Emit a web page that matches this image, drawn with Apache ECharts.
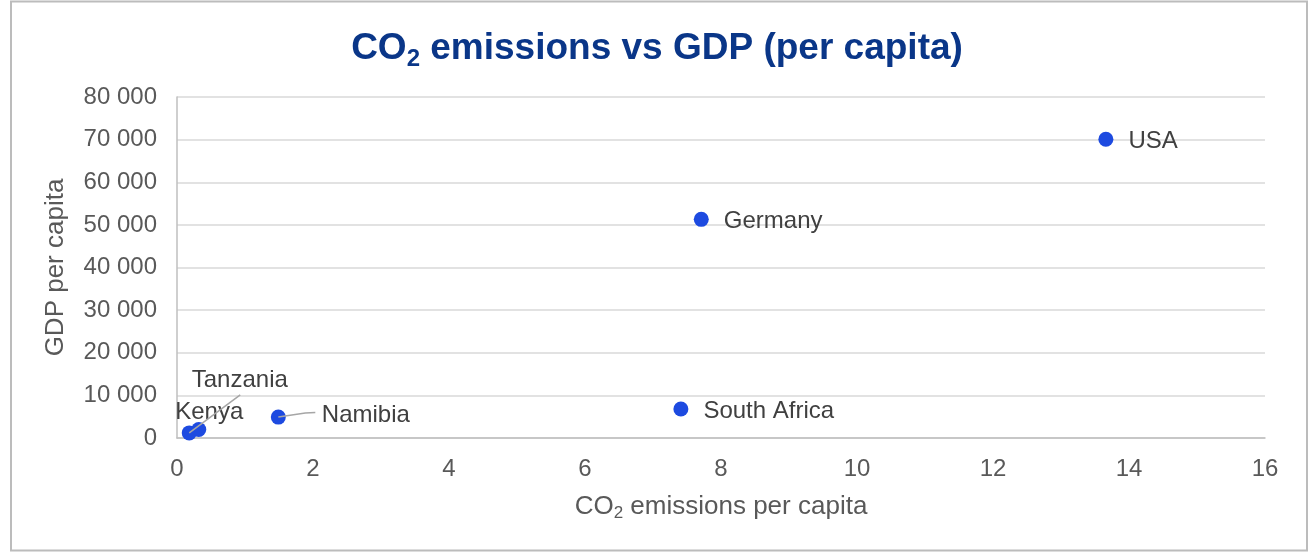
<!DOCTYPE html>
<html>
<head>
<meta charset="utf-8">
<script src="https://cdn.jsdelivr.net/npm/echarts@6/dist/echarts.min.js"></script>
<style>
html,body{margin:0;padding:0;background:#fff;}
#chart{width:1314px;height:556px;}
</style>
</head>
<body>
<div id="chart"></div>
<script>
// ---- data ----
const countries = ['Tanzania', 'Kenya', 'Namibia', 'South Africa', 'Germany', 'USA'];
const co2PerCapita = [0.18, 0.32, 1.49, 7.41, 7.71, 13.66];
const gdpPerCapita = [1200, 2000, 4900, 6800, 51300, 70100];
const xTicks = [0, 2, 4, 6, 8, 10, 12, 14, 16];
const yTicks = [0, 10000, 20000, 30000, 40000, 50000, 60000, 70000, 80000];

// ---- label placement (style only, pixel offsets relative to default label / point) ----
const labelOffsets = {
  'Tanzania': { dx: -20, dy: -53 },
  'Kenya': { dx: -46, dy: -17 },
  'Namibia': { dx: 21, dy: -2 }
};
const defaultLabelShift = { dx: 0, dy: 2 };
// leader line bends, pixel offsets from the point centre
const leaderLines = {
  'Tanzania': [[0, 0], [51, -38]],
  'Namibia': [[0, 0], [27, -4], [37, -4.5]]
};

const FONT = '"Liberation Sans", Arial, sans-serif';

function fmtThousands(v) {
  return String(v).replace(/\B(?=(\d{3})+(?!\d))/g, ' ');
}

const seriesData = countries.map((c, i) => ({ name: c, value: [co2PerCapita[i], gdpPerCapita[i]] }));

const chart = echarts.init(document.getElementById('chart'), null, { renderer: 'canvas' });
chart.setOption({
  backgroundColor: '#ffffff',
  animation: false,
  title: {
    text: '{a|CO}{s|2}{a| emissions vs GDP (per capita)}',
    left: 'center',
    top: 22,
    textStyle: {
      rich: {
        a: { fontFamily: FONT, fontWeight: 'bold', fontSize: 37, color: '#0a3688', lineHeight: 44, verticalAlign: 'middle' },
        s: { fontFamily: FONT, fontWeight: 'bold', fontSize: 24, color: '#0a3688', lineHeight: 44, verticalAlign: 'bottom' }
      }
    }
  },
  grid: { left: 177, right: 49, top: 97, bottom: 118, containLabel: false },
  xAxis: {
    type: 'value',
    min: xTicks[0],
    max: xTicks[xTicks.length - 1],
    interval: xTicks[1] - xTicks[0],
    name: '{a|CO}{s|2}{a| emissions per capita}',
    nameLocation: 'middle',
    nameGap: 54,
    nameTextStyle: {
      rich: {
        a: { fontFamily: FONT, fontSize: 26, color: '#595959', lineHeight: 30, verticalAlign: 'middle' },
        s: { fontFamily: FONT, fontSize: 17, color: '#595959', lineHeight: 30, verticalAlign: 'bottom' }
      }
    },
    axisLine: { show: true, lineStyle: { color: '#bfbfbf', width: 1.5 } },
    axisTick: { show: false },
    splitLine: { show: false },
    axisLabel: { fontFamily: FONT, fontSize: 24, color: '#595959', margin: 19 }
  },
  yAxis: {
    type: 'value',
    min: yTicks[0],
    max: yTicks[yTicks.length - 1],
    interval: yTicks[1] - yTicks[0],
    name: 'GDP per capita',
    nameLocation: 'middle',
    nameRotate: 90,
    nameGap: 108,
    nameTextStyle: { fontFamily: FONT, fontSize: 26, color: '#595959' },
    axisLine: { show: true, lineStyle: { color: '#bfbfbf', width: 1.5 } },
    axisTick: { show: false },
    splitLine: { show: true, lineStyle: { color: '#d9d9d9', width: 1.5 } },
    axisLabel: { fontFamily: FONT, fontSize: 24, color: '#595959', margin: 20, formatter: fmtThousands }
  },
  series: [{
    type: 'scatter',
    symbol: 'circle',
    symbolSize: 15,
    itemStyle: { color: '#1d4ae0', opacity: 1 },
    data: seriesData,
    label: {
      show: true,
      position: 'right',
      distance: 15,
      formatter: '{b}',
      fontFamily: FONT,
      fontSize: 24,
      color: '#404040'
    },
    labelLayout: function (p) {
      const o = labelOffsets[countries[p.dataIndex]] || defaultLabelShift;
      return { dx: o.dx, dy: o.dy };
    },
    z: 3
  }]
});

// outer border + leader lines anchored on the data points through the chart's scales
const graphics = [{
  type: 'rect',
  shape: { x: 11, y: 1.5, width: 1296, height: 549 },
  style: { fill: 'none', stroke: '#bcbcbc', lineWidth: 2 },
  silent: true,
  z: 100
}];
Object.keys(leaderLines).forEach(name => {
  const i = countries.indexOf(name);
  const p = chart.convertToPixel({ seriesIndex: 0 }, [co2PerCapita[i], gdpPerCapita[i]]);
  graphics.push({
    type: 'polyline',
    shape: { points: leaderLines[name].map(d => [p[0] + d[0], p[1] + d[1]]) },
    style: { fill: 'none', stroke: '#a6a6a6', lineWidth: 1.5 },
    silent: true,
    z: 100
  });
});
chart.setOption({ graphic: graphics });
</script>
</body>
</html>
